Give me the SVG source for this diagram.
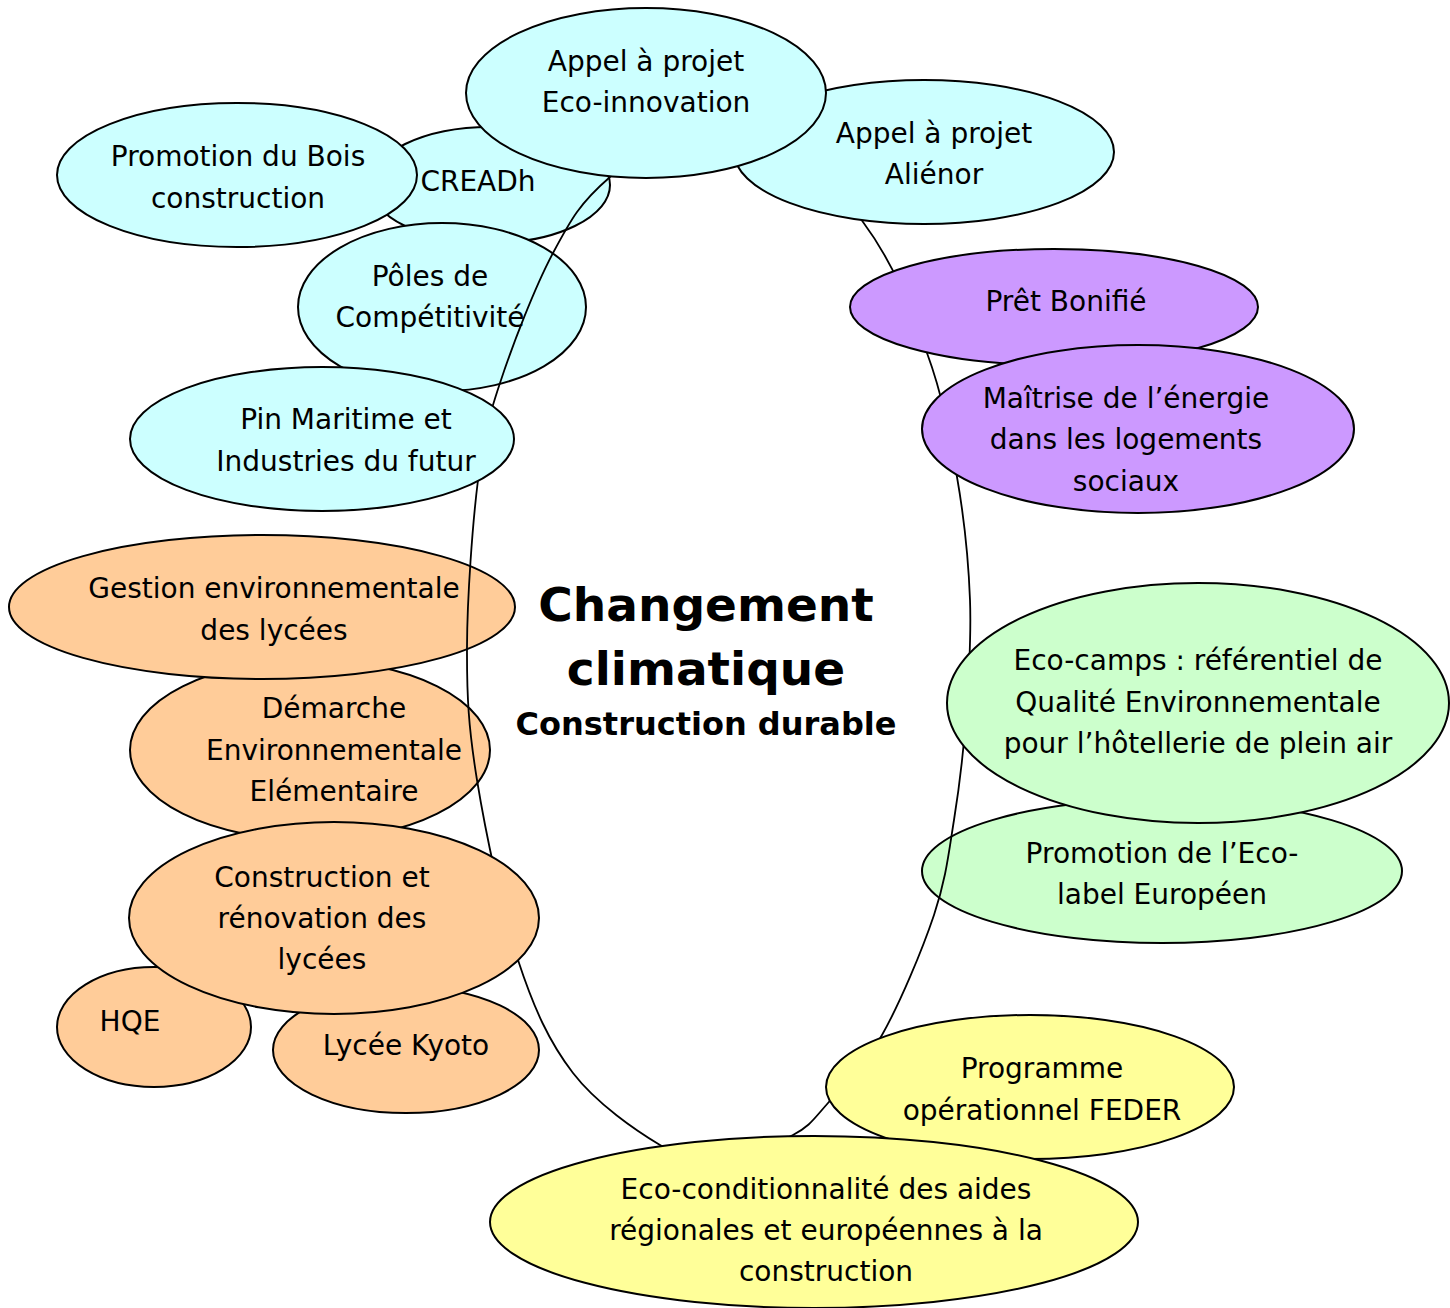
<svg xmlns="http://www.w3.org/2000/svg" width="1450" height="1308" viewBox="0 0 1450 1308">
<style>
.n ellipse{stroke:#000;stroke-width:2}
.cy ellipse{fill:#CCFFFF}
.pu ellipse{fill:#CC99FF}
.pe ellipse{fill:#FFCC99}
.gr ellipse{fill:#CCFFCC}
.ye ellipse{fill:#FFFF99}
text{font-family:"DejaVu Sans","Liberation Sans",sans-serif;font-size:28px;text-anchor:middle;fill:#000}
.title{font-weight:bold;font-size:47px}
.sub{font-weight:bold;font-size:32px}
.conn path{fill:none;stroke:#000;stroke-width:1.8}
</style>
<rect width="1450" height="1308" fill="#fff"/>
<g id="creadh" class="n cy"><ellipse cx="490" cy="185" rx="120" ry="58"/><text x="478" y="191">CREADh</text></g>
<g id="bois" class="n cy"><ellipse cx="237" cy="175" rx="180" ry="72"/><text x="238" y="166">Promotion du Bois</text><text x="238" y="208">construction</text></g>
<g id="poles" class="n cy"><ellipse cx="442" cy="307" rx="144" ry="84"/><text x="430" y="286">Pôles de</text><text x="430" y="327">Compétitivité</text></g>
<g id="demarche" class="n pe"><ellipse cx="310" cy="750" rx="180" ry="90"/><text x="334" y="718">Démarche</text><text x="334" y="760">Environnementale</text><text x="334" y="801">Elémentaire</text></g>
<g id="gestion" class="n pe"><ellipse cx="262" cy="607" rx="253" ry="72"/><text x="274" y="598">Gestion environnementale</text><text x="274" y="640">des lycées</text></g>
<g id="ecolabel" class="n gr"><ellipse cx="1162" cy="871" rx="240" ry="72"/><text x="1162" y="863">Promotion de l’Eco-</text><text x="1162" y="904">label Européen</text></g>
<g id="connectors" class="conn">
<path d="M610,177 C640.3,150.7 692.8,87.5 735,95 C777.2,102.5 831,179 863,222 C895,265 911.3,310.5 927,353 C942.7,395.5 949.8,435.8 957,477 C964.2,518.2 968.5,560 970,600 C971.5,640 968.7,680.3 966,717 C963.3,753.7 959.3,787 954,820 C948.7,853 946,879.2 934,915 C922,950.8 899.7,1003.7 882,1035 C864.3,1066.3 842.8,1086.3 828,1103 C813.2,1119.7 810.2,1125.8 793,1135 C775.8,1144.2 747.2,1156.3 725,1158 C699.7,1159.7 683.7,1159.2 660,1145 C636.3,1130.8 596.7,1103.8 573,1073 C549.3,1042.2 534,1008.8 518,960 C502,911.2 485.5,832.2 477,780 C468.5,727.8 466.8,697 467,647 C467.2,597 472.5,524 478,480 C483.5,436 487.5,420.8 500,383 C512.5,345.2 534.7,287.3 553,253 C571.3,218.7 579.7,203.3 610,177 Z"/>
</g>
<g id="alienor" class="n cy"><ellipse cx="924" cy="152" rx="190" ry="72"/><text x="934" y="143">Appel à projet</text><text x="934" y="184">Aliénor</text></g>
<g id="ecoinnovation" class="n cy"><ellipse cx="646" cy="93" rx="180" ry="85"/><text x="646" y="71">Appel à projet</text><text x="646" y="112">Eco-innovation</text></g>
<g id="pin" class="n cy"><ellipse cx="322" cy="439" rx="192" ry="72"/><text x="346" y="429">Pin Maritime et</text><text x="346" y="471">Industries du futur</text></g>
<g id="hqe" class="n pe"><ellipse cx="154" cy="1027" rx="97" ry="60"/><text x="130" y="1031">HQE</text></g>
<g id="kyoto" class="n pe"><ellipse cx="406" cy="1050" rx="133" ry="63"/><text x="406" y="1055">Lycée Kyoto</text></g>
<g id="construction" class="n pe"><ellipse cx="334" cy="918" rx="205" ry="96"/><text x="322" y="887">Construction et</text><text x="322" y="928">rénovation des</text><text x="322" y="969">lycées</text></g>
<g id="pret" class="n pu"><ellipse cx="1054" cy="307" rx="204" ry="58"/><text x="1066" y="311">Prêt Bonifié</text></g>
<g id="maitrise" class="n pu"><ellipse cx="1138" cy="429" rx="216" ry="84"/><text x="1126" y="408">Maîtrise de l’énergie</text><text x="1126" y="449">dans les logements</text><text x="1126" y="491">sociaux</text></g>
<g id="ecocamps" class="n gr"><ellipse cx="1198" cy="703" rx="251" ry="120"/><text x="1198" y="670">Eco-camps : référentiel de</text><text x="1198" y="712">Qualité Environnementale</text><text x="1198" y="753">pour l’hôtellerie de plein air</text></g>
<g id="feder" class="n ye"><ellipse cx="1030" cy="1087" rx="204" ry="72"/><text x="1042" y="1078">Programme</text><text x="1042" y="1120">opérationnel FEDER</text></g>
<g id="ecocond" class="n ye"><ellipse cx="814" cy="1222" rx="324" ry="86"/><text x="826" y="1199">Eco-conditionnalité des aides</text><text x="826" y="1240">régionales et européennes à la</text><text x="826" y="1281">construction</text></g>
<g id="center"><text class="title" x="706" y="621">Changement</text><text class="title" x="706" y="685">climatique</text><text class="sub" x="706" y="735">Construction durable</text></g>
</svg>
